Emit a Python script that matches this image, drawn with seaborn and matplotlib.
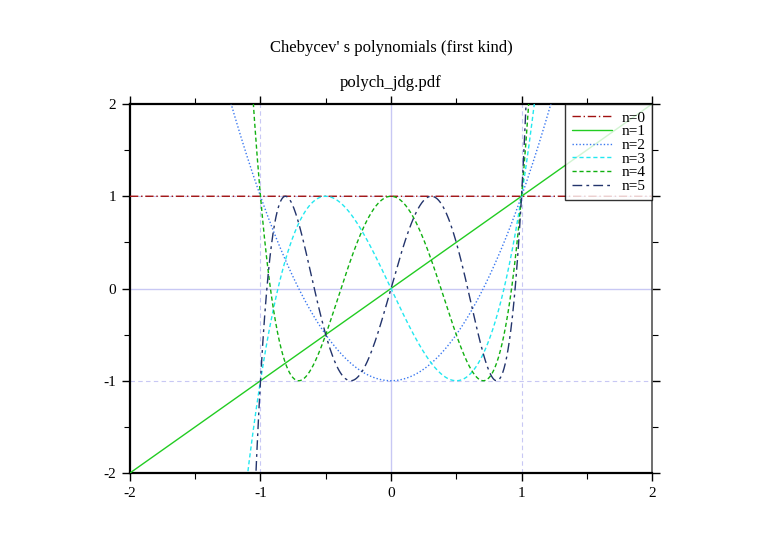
import numpy as np
import pandas as pd
import seaborn as sns
import matplotlib.pyplot as plt
from matplotlib.ticker import MultipleLocator

# Chebyshev polynomials of the first kind, coefficients in increasing power
T0 = [1]
T1 = [0, 1]
T2 = [-1, 0, 2]
T3 = [0, -3, 0, 4]
T4 = [1, 0, -8, 0, 8]
T5 = [0, 5, 0, -20, 0, 16]
labels = ['n=0', 'n=1', 'n=2', 'n=3', 'n=4', 'n=5']
coeffs = [T0, T1, T2, T3, T4, T5]

colors = ['#a01010', '#22cc22', '#3a78f0', '#22e8f0', '#10b010', '#23346c']
styles = [(0, (6, 2, 1, 2)), '-', (0, (1, 1.5)), (0, (3, 2)), (0, (3, 2)), (0, (7, 3, 2, 3))]

sns.set_theme(style='white')
plt.rcParams['font.family'] = ['Liberation Serif', 'DejaVu Serif']
plt.rcParams['axes.unicode_minus'] = False
plt.rcParams['text.color'] = 'black'
plt.rcParams['xtick.color'] = 'black'
plt.rcParams['ytick.color'] = 'black'

fig = plt.figure(figsize=(7.82, 5.53), dpi=100)
ax = fig.add_axes([0.1662, 0.1447, 0.6676, 0.6672])

x = np.linspace(-2, 2, 2001)
for lab, c, col, ls in zip(labels, coeffs, colors, styles):
    y = np.polynomial.polynomial.polyval(x, c)
    sns.lineplot(x=x, y=y, ax=ax, color=col, linestyle=ls, linewidth=1.0,
                 label=lab, zorder=3)

# grid and zero axes
grid_col = '#c8c8f4'
for v in (-1, 1):
    ax.axvline(v, color=grid_col, linestyle=(0, (4, 3)), linewidth=0.8, zorder=1)
    ax.axhline(v, color=grid_col, linestyle=(0, (4, 3)), linewidth=0.8, zorder=1)
ax.axvline(0, color=grid_col, linewidth=1.0, zorder=1)
ax.axhline(0, color=grid_col, linewidth=1.0, zorder=1)

ax.set_xlim(-2, 2)
ax.set_ylim(-2, 2)
ax.xaxis.set_major_locator(MultipleLocator(1))
ax.yaxis.set_major_locator(MultipleLocator(1))
ax.xaxis.set_minor_locator(MultipleLocator(0.5))
ax.yaxis.set_minor_locator(MultipleLocator(0.5))
ax.tick_params(which='major', direction='out', length=6, width=1.0, color='black',
               labelsize=11, labelcolor='black', top=True, right=True, bottom=True,
               left=True, pad=4)
ax.tick_params(which='minor', direction='out', length=4, width=0.8, color='black',
               top=True, right=True, bottom=True, left=True)
ax.set_xlabel('')
ax.set_ylabel('')
for side, sp in ax.spines.items():
    sp.set_color('black')
    sp.set_linewidth(1.6)
ax.spines['right'].set_color('#555555')
ax.spines['right'].set_linewidth(1.2)

leg = ax.legend(loc='upper right', fontsize=11, frameon=True, fancybox=False,
                borderaxespad=0, handlelength=2.6, labelspacing=0.0,
                borderpad=0.45, handletextpad=0.6)
leg.get_frame().set_edgecolor('black')
leg.get_frame().set_linewidth(1.0)
for t in leg.get_texts():
    t.set_color('black')

fig.suptitle("Chebycev' s polynomials (first kind)", y=0.928, fontsize=12,
             color='black')
ax.set_title('polych_jdg.pdf', fontsize=12, pad=12, color='black')

plt.savefig('out.png', dpi=100)
